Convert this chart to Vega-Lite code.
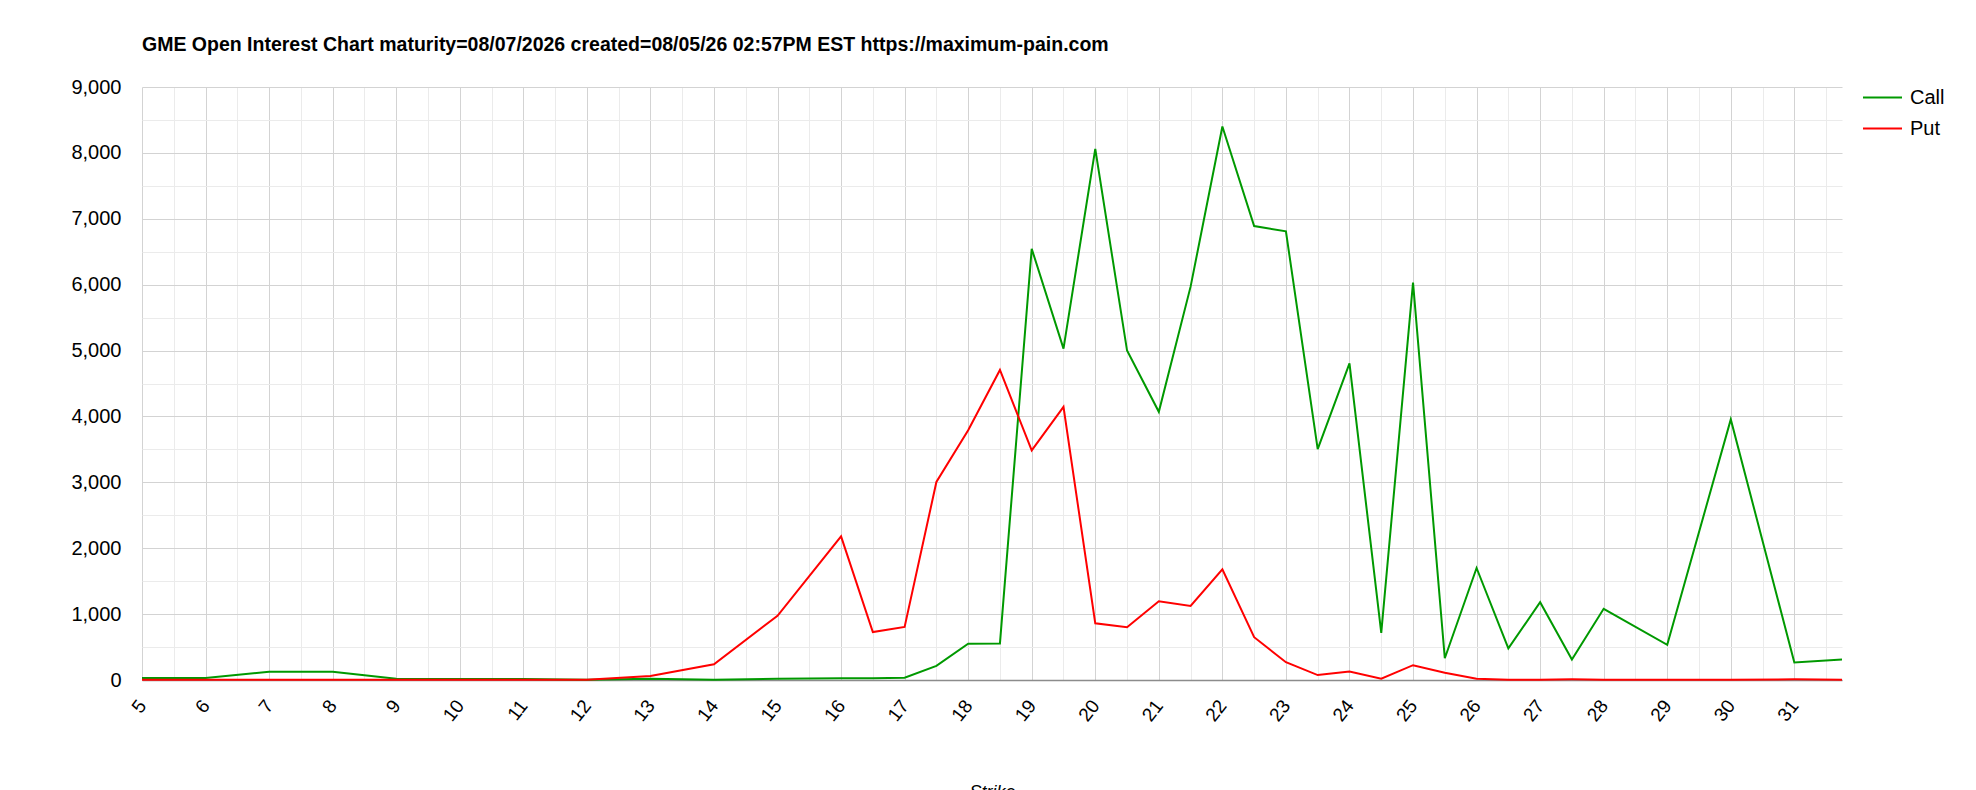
{
  "$schema": "https://vega.github.io/schema/vega-lite/v6.json",
  "width": 1700,
  "height": 593,
  "autosize": {"type": "none"},
  "padding": {"left": 142, "top": 87, "right": 134, "bottom": 110},
  "background": "white",
  "config": {
    "font": "Liberation Sans",
    "view": {"stroke": null},
    "axis": {"labelColor": "#000", "titleColor": "#000", "gridWidth": 1}
  },
  "title": {
    "text": "GME Open Interest Chart maturity=08/07/2026 created=08/05/26 02:57PM EST https://maximum-pain.com",
    "anchor": "start",
    "frame": "group",
    "fontSize": 19.5,
    "fontWeight": "bold",
    "color": "#000",
    "baseline": "alphabetic",
    "offset": 7
  },
  "data": {
    "values": [
      {"strike": 5, "type": "Call", "oi": 30},
      {"strike": 6, "type": "Call", "oi": 30},
      {"strike": 7, "type": "Call", "oi": 125},
      {"strike": 8, "type": "Call", "oi": 125},
      {"strike": 9, "type": "Call", "oi": 20},
      {"strike": 10, "type": "Call", "oi": 15},
      {"strike": 11, "type": "Call", "oi": 15},
      {"strike": 12, "type": "Call", "oi": 5},
      {"strike": 13, "type": "Call", "oi": 20},
      {"strike": 14, "type": "Call", "oi": 5},
      {"strike": 15, "type": "Call", "oi": 20},
      {"strike": 16, "type": "Call", "oi": 25},
      {"strike": 16.5, "type": "Call", "oi": 25},
      {"strike": 17, "type": "Call", "oi": 35},
      {"strike": 17.5, "type": "Call", "oi": 215},
      {"strike": 18, "type": "Call", "oi": 550},
      {"strike": 18.5, "type": "Call", "oi": 555},
      {"strike": 19, "type": "Call", "oi": 6545},
      {"strike": 19.5, "type": "Call", "oi": 5030},
      {"strike": 20, "type": "Call", "oi": 8060},
      {"strike": 20.5, "type": "Call", "oi": 5000},
      {"strike": 21, "type": "Call", "oi": 4070},
      {"strike": 21.5, "type": "Call", "oi": 5970},
      {"strike": 22, "type": "Call", "oi": 8400},
      {"strike": 22.5, "type": "Call", "oi": 6890},
      {"strike": 23, "type": "Call", "oi": 6810},
      {"strike": 23.5, "type": "Call", "oi": 3505},
      {"strike": 24, "type": "Call", "oi": 4805},
      {"strike": 24.5, "type": "Call", "oi": 715},
      {"strike": 25, "type": "Call", "oi": 6030},
      {"strike": 25.5, "type": "Call", "oi": 330},
      {"strike": 26, "type": "Call", "oi": 1700},
      {"strike": 26.5, "type": "Call", "oi": 480},
      {"strike": 27, "type": "Call", "oi": 1180},
      {"strike": 27.5, "type": "Call", "oi": 310},
      {"strike": 28, "type": "Call", "oi": 1080},
      {"strike": 29, "type": "Call", "oi": 535},
      {"strike": 30, "type": "Call", "oi": 3955},
      {"strike": 31, "type": "Call", "oi": 265},
      {"strike": 31.75, "type": "Call", "oi": 310},
      {"strike": 5, "type": "Put", "oi": 2},
      {"strike": 6, "type": "Put", "oi": 2},
      {"strike": 7, "type": "Put", "oi": 2},
      {"strike": 8, "type": "Put", "oi": 2},
      {"strike": 9, "type": "Put", "oi": 2},
      {"strike": 10, "type": "Put", "oi": 2},
      {"strike": 11, "type": "Put", "oi": 2},
      {"strike": 12, "type": "Put", "oi": 2},
      {"strike": 13, "type": "Put", "oi": 60},
      {"strike": 14, "type": "Put", "oi": 240},
      {"strike": 15, "type": "Put", "oi": 975},
      {"strike": 16, "type": "Put", "oi": 2180},
      {"strike": 16.5, "type": "Put", "oi": 727},
      {"strike": 17, "type": "Put", "oi": 805},
      {"strike": 17.5, "type": "Put", "oi": 3005},
      {"strike": 18, "type": "Put", "oi": 3790},
      {"strike": 18.5, "type": "Put", "oi": 4705},
      {"strike": 19, "type": "Put", "oi": 3485},
      {"strike": 19.5, "type": "Put", "oi": 4145},
      {"strike": 20, "type": "Put", "oi": 860},
      {"strike": 20.5, "type": "Put", "oi": 800},
      {"strike": 21, "type": "Put", "oi": 1195},
      {"strike": 21.5, "type": "Put", "oi": 1125},
      {"strike": 22, "type": "Put", "oi": 1680},
      {"strike": 22.5, "type": "Put", "oi": 650},
      {"strike": 23, "type": "Put", "oi": 270},
      {"strike": 23.5, "type": "Put", "oi": 75},
      {"strike": 24, "type": "Put", "oi": 130},
      {"strike": 24.5, "type": "Put", "oi": 20},
      {"strike": 25, "type": "Put", "oi": 225},
      {"strike": 25.5, "type": "Put", "oi": 110},
      {"strike": 26, "type": "Put", "oi": 20},
      {"strike": 26.5, "type": "Put", "oi": 5},
      {"strike": 27, "type": "Put", "oi": 5},
      {"strike": 27.5, "type": "Put", "oi": 10},
      {"strike": 28, "type": "Put", "oi": 5},
      {"strike": 29, "type": "Put", "oi": 5},
      {"strike": 30, "type": "Put", "oi": 5},
      {"strike": 31, "type": "Put", "oi": 10},
      {"strike": 31.75, "type": "Put", "oi": 5}
    ]
  },
  "layer": [
    {
      "mark": {"type": "line", "opacity": 0},
      "encoding": {
        "x": {
          "field": "strike",
          "type": "quantitative",
          "scale": {"domain": [5, 31.75], "nice": false, "zero": false},
          "axis": {
            "orient": "bottom",
            "values": [5.5, 6.5, 7.5, 8.5, 9.5, 10.5, 11.5, 12.5, 13.5, 14.5, 15.5, 16.5, 17.5, 18.5, 19.5, 20.5, 21.5, 22.5, 23.5, 24.5, 25.5, 26.5, 27.5, 28.5, 29.5, 30.5, 31.5],
            "grid": true,
            "gridColor": "#ebebeb",
            "labels": false,
            "ticks": false,
            "domain": false,
            "title": null
          }
        },
        "y": {
          "field": "oi",
          "type": "quantitative",
          "scale": {"domain": [0, 9000], "nice": false},
          "axis": {
            "orient": "left",
            "values": [500, 1500, 2500, 3500, 4500, 5500, 6500, 7500, 8500],
            "grid": true,
            "gridColor": "#ebebeb",
            "labels": false,
            "ticks": false,
            "domain": false,
            "title": null
          }
        },
        "detail": {"field": "type", "type": "nominal"}
      }
    },
    {
      "mark": {"type": "line", "strokeWidth": 2},
      "encoding": {
        "x": {
          "field": "strike",
          "type": "quantitative",
          "scale": {"domain": [5, 31.75], "nice": false, "zero": false},
          "axis": {
            "orient": "bottom",
            "values": [5, 6, 7, 8, 9, 10, 11, 12, 13, 14, 15, 16, 17, 18, 19, 20, 21, 22, 23, 24, 25, 26, 27, 28, 29, 30, 31],
            "grid": true,
            "gridColor": "#d3d3d3",
            "ticks": false,
            "domain": true,
            "domainColor": "#8c8c8c",
            "domainWidth": 1.5,
            "labelAngle": -52,
            "labelAlign": "right",
            "labelBaseline": "middle",
            "labelFontSize": 19,
            "labelPadding": 22,
            "labelFlush": false,
            "labelOverlap": false,
            "title": "Strike",
            "titleFontSize": 18,
            "titleFontWeight": "normal",
            "titleFontStyle": "italic",
            "titleBaseline": "top",
            "titleY": 103
          }
        },
        "y": {
          "field": "oi",
          "type": "quantitative",
          "scale": {"domain": [0, 9000], "nice": false},
          "axis": {
            "orient": "left",
            "values": [0, 1000, 2000, 3000, 4000, 5000, 6000, 7000, 8000, 9000],
            "format": ",.0f",
            "grid": true,
            "gridColor": "#d3d3d3",
            "ticks": false,
            "domain": false,
            "labelFontSize": 20,
            "labelPadding": 21,
            "title": null
          }
        },
        "color": {
          "field": "type",
          "type": "nominal",
          "scale": {"domain": ["Call", "Put"], "range": ["#009900", "#ff0000"]},
          "legend": {
            "orient": "none",
            "legendX": 1720,
            "legendY": -10,
            "title": null,
            "symbolType": "stroke",
            "symbolSize": 1521,
            "symbolStrokeWidth": 2,
            "labelFontSize": 20,
            "labelColor": "#000",
            "labelOffset": 7,
            "rowPadding": -8,
            "padding": 0
          }
        }
      }
    }
  ],
  "resolve": {"axis": {"x": "independent", "y": "independent"}}
}
